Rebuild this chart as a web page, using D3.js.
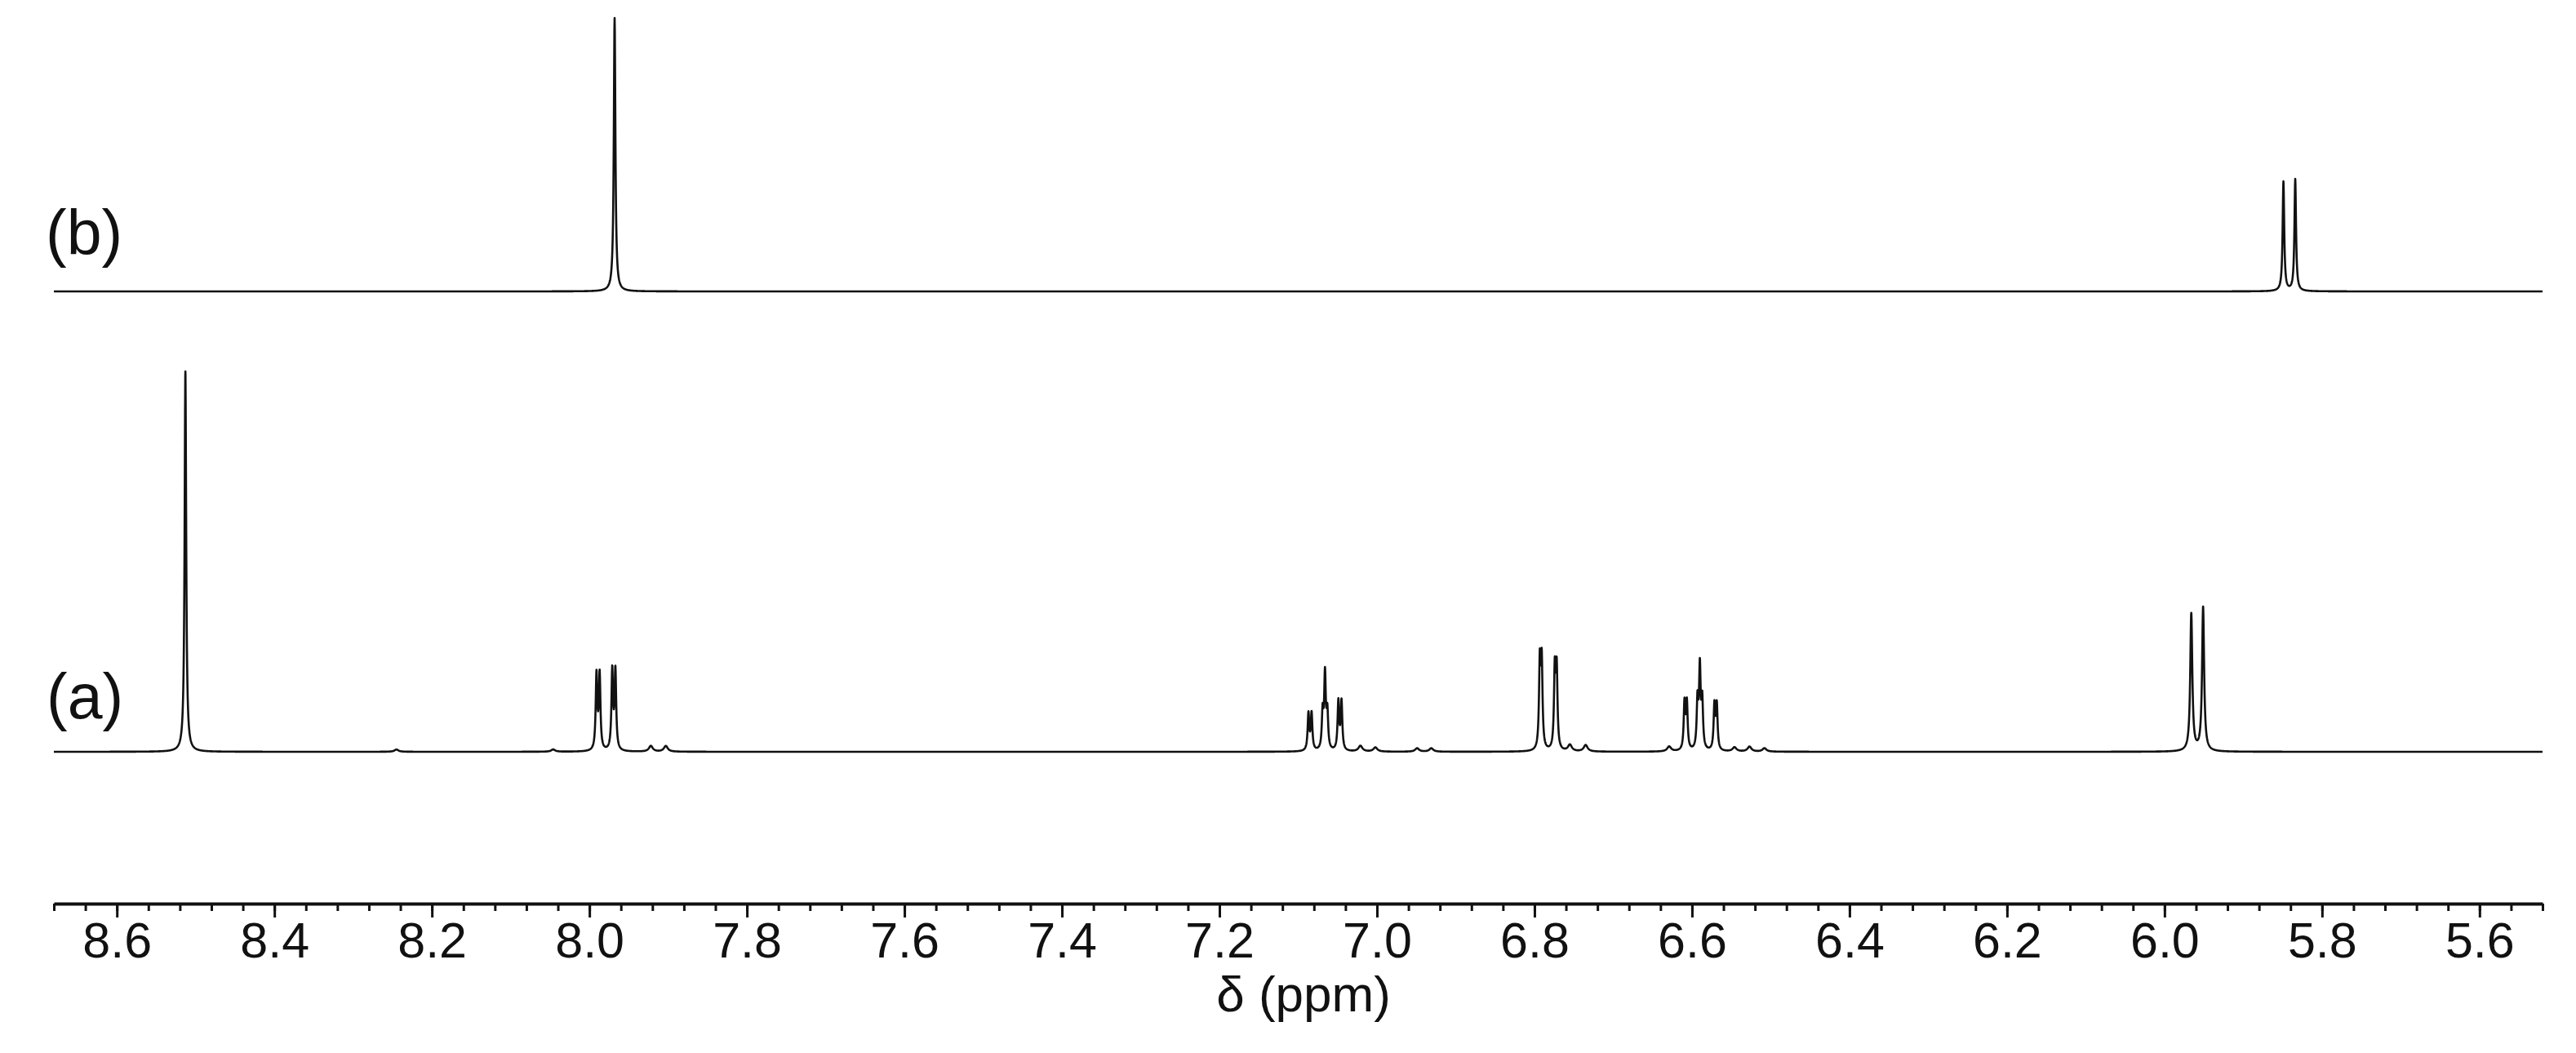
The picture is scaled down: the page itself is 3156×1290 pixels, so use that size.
<!DOCTYPE html>
<html>
<head>
<meta charset="utf-8">
<script src="https://cdn.jsdelivr.net/npm/d3@7"></script>
<style>
  html, body { margin: 0; padding: 0; background: #ffffff; }
  svg { display: block; }
</style>
</head>
<body>
<svg id="chart" width="3156" height="1290"></svg>
<script>
// ---------------- DATA ----------------
// chemical-shift axis (ppm, reversed as usual for NMR)
const ppmDomain = [8.68, 5.52];
const majorTicks = [8.6, 8.4, 8.2, 8.0, 7.8, 7.6, 7.4, 7.2, 7.0, 6.8, 6.6, 6.4, 6.2, 6.0, 5.8, 5.6];
const minorTicks = d3.range(138, 218).map(i => i / 25); // every 0.04 ppm from 5.52 to 8.68
const axisTitle = "δ (ppm)";
const spectrumNames = ["(a)", "(b)"];

// Spectrum (a): peak list [shift (ppm), intensity (% of tallest line), half-width (ppm)]
const peaksA = [
  [8.513, 100.0, 0.0012],
  [8.245, 0.6, 0.0030],
  [8.046, 0.6, 0.0030],
  [7.991, 19.8, 0.0012], [7.987, 19.8, 0.0012],
  [7.971, 20.8, 0.0012], [7.967, 20.8, 0.0012],
  [7.922, 1.5, 0.0030], [7.903, 1.5, 0.0030],
  [7.087, 9.7, 0.0012], [7.083, 9.7, 0.0012],
  [7.069, 9.5, 0.0012], [7.066, 19.5, 0.0012], [7.063, 9.5, 0.0012],
  [7.049, 12.8, 0.0012], [7.045, 12.8, 0.0012],
  [7.021, 1.5, 0.0030], [7.002, 1.1, 0.0030],
  [6.949, 0.9, 0.0030], [6.931, 0.9, 0.0030],
  [6.7932, 22.5, 0.0012], [6.7908, 22.5, 0.0012],
  [6.7742, 20.6, 0.0012], [6.7718, 20.6, 0.0012],
  [6.755, 1.7, 0.0030], [6.735, 1.7, 0.0030],
  [6.629, 1.3, 0.0030],
  [6.6095, 12.3, 0.0012], [6.6065, 12.3, 0.0012],
  [6.593, 12.5, 0.0012], [6.590, 21.0, 0.0012], [6.587, 12.5, 0.0012],
  [6.5715, 11.7, 0.0012], [6.5685, 11.7, 0.0012],
  [6.546, 1.1, 0.0030], [6.527, 1.3, 0.0030], [6.508, 0.9, 0.0030],
  [5.966, 36.1, 0.00155], [5.951, 37.8, 0.00155]
];

// Spectrum (b): peak list [shift (ppm), intensity (% of tallest line), half-width (ppm)]
const peaksB = [
  [7.968, 100.0, 0.0012],
  [5.849, 40.0, 0.0012],
  [5.834, 40.9, 0.0012]
];

// ---------------- CHART ----------------
const W = 3156, H = 1290;
const svg = d3.select("#chart");
svg.append("rect").attr("width", W).attr("height", H).attr("fill", "#ffffff");

const x = d3.scaleLinear().domain(ppmDomain).range([66, 3115]);
const yA = d3.scaleLinear().domain([0, 100]).range([921, 455]);
const yB = d3.scaleLinear().domain([0, 100]).range([357, 22]);

const font = "'Liberation Sans', Arial, Helvetica, sans-serif";
const ink = "#111111";

// line-shape evaluation of a peak list (Lorentzian lines)
function intensity(peaks, ppm) {
  let s = 0;
  for (const [c, h, w] of peaks) {
    const d = ppm - c;
    s += h * w * w / (d * d + w * w);
  }
  return s;
}
function trace(peaks) {
  const [r0, r1] = x.range();
  const shifts = d3.range(r0, r1 + 0.001, 0.25).map(px => x.invert(px))
    .concat(peaks.map(p => p[0]));
  shifts.sort((a, b) => b - a);
  return shifts.map(p => [p, intensity(peaks, p)]);
}

function drawSpectrum(peaks, y) {
  const line = d3.line().x(d => x(d[0])).y(d => y(d[1]));
  svg.append("path")
    .datum(trace(peaks))
    .attr("d", line)
    .attr("fill", "none")
    .attr("stroke", ink)
    .attr("stroke-width", 2.6)
    .attr("stroke-linejoin", "round");
}
drawSpectrum(peaksB, yB);
drawSpectrum(peaksA, yA);

// spectrum labels
svg.append("text").text(spectrumNames[1])
  .attr("x", 56).attr("y", 312)
  .attr("font-family", font).attr("font-size", 77).attr("fill", ink);
svg.append("text").text(spectrumNames[0])
  .attr("x", 57).attr("y", 880)
  .attr("font-family", font).attr("font-size", 77).attr("fill", ink);

// axis
const axisY = 1107;
const gMinor = svg.append("g").attr("transform", `translate(0,${axisY})`)
  .call(d3.axisBottom(x).tickValues(minorTicks).tickSize(9).tickSizeOuter(0).tickFormat(""));
gMinor.select(".domain").attr("stroke", ink).attr("stroke-width", 4);
gMinor.selectAll(".tick line").attr("stroke", ink).attr("stroke-width", 3);

const gMajor = svg.append("g").attr("transform", `translate(0,${axisY})`)
  .call(d3.axisBottom(x).tickValues(majorTicks).tickSize(17).tickPadding(6)
    .tickFormat(d3.format(".1f")));
gMajor.select(".domain").remove();
gMajor.selectAll(".tick line").attr("stroke", ink).attr("stroke-width", 3);
gMajor.selectAll(".tick text")
  .attr("font-family", font).attr("font-size", 61).attr("fill", ink);

svg.append("text").text(axisTitle)
  .attr("x", 1597).attr("y", 1239)
  .attr("text-anchor", "middle")
  .attr("font-family", font).attr("font-size", 62).attr("fill", ink);
</script>
</body>
</html>
